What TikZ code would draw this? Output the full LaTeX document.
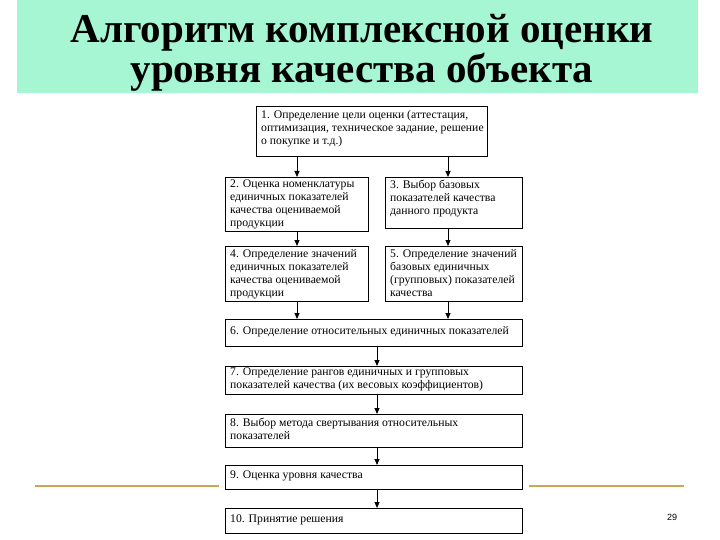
\documentclass[tikz,border=0pt]{standalone}
\usepackage{fontspec}
\setmainfont{Liberation Serif}
\newfontfamily\sansf{Liberation Sans}
\usetikzlibrary{arrows.meta}
\definecolor{mint}{RGB}{166,246,212}
\definecolor{gold}{RGB}{205,165,85}
\begin{document}
\begin{tikzpicture}[x=1pt,y=-1pt,
  box/.style={draw, line width=1.2pt, inner sep=0pt, anchor=north west},
  txt/.style={anchor=north west, align=left, inner sep=0pt, font=\fontsize{11.7}{13}\selectfont},
  ttl/.style={anchor=base, inner sep=0pt, font=\bfseries\fontsize{41}{42}\selectfont},
  arr/.style={-{Triangle[width=5pt,length=6pt]}, line width=0.9pt},
  rule/.style={gold, line width=2.5pt}]
\useasboundingbox (0,0) rectangle (720,540);
\fill[mint] (17,0) rectangle (698,93);
\node[ttl] (title1) at (362,43) {Алгоритм комплексной оценки};
\node[ttl] (title2) at (362,83) {уровня качества объекта};
% boxes
\node[box, minimum width=231pt, minimum height=50pt] (b1) at (256,106) {};
\node[box, minimum width=143pt, minimum height=54pt] (b2) at (225,177) {};
\node[box, minimum width=137pt, minimum height=51pt] (b3) at (385,177) {};
\node[box, minimum width=143pt, minimum height=55pt] (b4) at (225,246) {};
\node[box, minimum width=137pt, minimum height=55pt] (b5) at (385,246) {};
\node[box, minimum width=297pt, minimum height=27pt] (b6) at (225,319) {};
\node[box, minimum width=297pt, minimum height=28pt] (b7) at (225,366) {};
\node[box, minimum width=297pt, minimum height=33pt] (b8) at (225,414) {};
\node[box, minimum width=297pt, minimum height=24pt] (b9) at (225,465) {};
\node[box, minimum width=297pt, minimum height=25pt] (b10) at (225,508) {};
% texts
\node[txt] (t1) at ([xshift=5pt,yshift=-4pt]b1.north west) {1. Определение цели оценки (аттестация,\\оптимизация, техническое задание, решение\\о покупке и т.д.)};
\node[txt] (t2) at ([xshift=5pt,yshift=-3pt]b2.north west) {2. Оценка номенклатуры\\единичных показателей\\качества оцениваемой\\продукции};
\node[txt] (t3) at ([xshift=5pt,yshift=-3pt]b3.north west) {3. Выбор базовых\\показателей качества\\данного продукта};
\node[txt] (t4) at ([xshift=5pt,yshift=-3pt]b4.north west) {4. Определение значений\\единичных показателей\\качества оцениваемой\\продукции};
\node[txt] (t5) at ([xshift=5pt,yshift=-3pt]b5.north west) {5. Определение значений\\базовых единичных\\(групповых) показателей\\качества};
\node[txt] (t6) at ([xshift=5pt,yshift=-7pt]b6.north west) {6. Определение относительных единичных показателей};
\node[txt] (t7) at ([xshift=5pt,yshift=-2pt]b7.north west) {7. Определение рангов единичных и групповых\\показателей качества (их весовых коэффициентов)};
\node[txt] (t8) at ([xshift=5pt,yshift=-4pt]b8.north west) {8. Выбор метода свертывания относительных\\показателей};
\node[txt] (t9) at ([xshift=5pt,yshift=-6pt]b9.north west) {9. Оценка уровня качества};
\node[txt] (t10) at ([xshift=5pt,yshift=-7pt]b10.north west) {10. Принятие решения};
% arrows
\coordinate (cl) at (297,0);
\coordinate (cr) at (448,0);
\coordinate (cm) at (377,0);
\draw[arr] (b1.south -| cl) -- (b2.north -| cl);
\draw[arr] (b1.south -| cr) -- (b3.north -| cr);
\draw[arr] (b2.south -| cl) -- (b4.north -| cl);
\draw[arr] (b3.south -| cr) -- (b5.north -| cr);
\draw[arr] (b4.south -| cl) -- (b6.north -| cl);
\draw[arr] (b5.south -| cr) -- (b6.north -| cr);
\draw[arr] (b6.south -| cm) -- (b7.north -| cm);
\draw[arr] (b7.south -| cm) -- (b8.north -| cm);
\draw[arr] (b8.south -| cm) -- (b9.north -| cm);
\draw[arr] (b9.south -| cm) -- (b10.north -| cm);
% decorations
\coordinate (r1a) at (35,486);
\coordinate (r1b) at (219,486);
\coordinate (r2a) at (529,486);
\coordinate (r2b) at (684,486);
\draw[rule] (r1a) -- (r1b);
\draw[rule] (r2a) -- (r2b);
\node[font=\sansf\fontsize{9}{10}\selectfont, inner sep=0pt] (pn) at (672,517) {29};
\end{tikzpicture}
\end{document}
